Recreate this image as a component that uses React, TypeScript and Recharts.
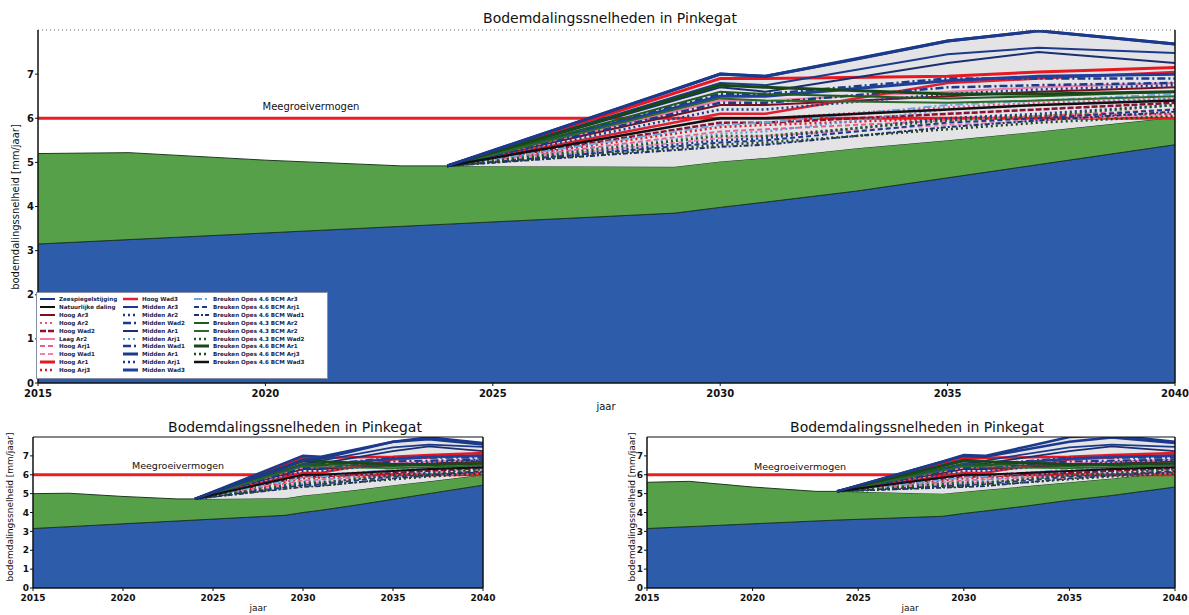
import { Area, ComposedChart, Line, ReferenceLine, XAxis, YAxis } from "recharts";

const FONT = '"DejaVu Sans", Verdana, sans-serif';

const YEARS = [2015, 2017, 2020, 2023, 2024, 2029, 2030, 2031, 2033, 2035, 2037, 2040];
const START_YEAR = 2024;
const SCENARIO_YEARS = [2030, 2031, 2035, 2037, 2040];
const X_TICKS = [2015, 2020, 2025, 2030, 2035, 2040];
const Y_TICKS = [0, 1, 2, 3, 4, 5, 6, 7];
const MEEGROEIVERMOGEN = 6;
const TITLE = "Bodemdalingssnelheden in Pinkegat";
const Y_LABEL = "bodemdalingssnelheid [mm/jaar]";

// bovenste paneel
const TOP_SEA = [3.15, 3.25, 3.4, 3.55, 3.6, 3.85, 3.98, 4.1, 4.35, 4.65, 4.95, 5.4];
const TOP_BODEM = [5.2, 5.22, 5.05, 4.92, 4.92, 4.9, 5.02, 5.1, 5.32, 5.5, 5.7, 6.02];
const TOP_ENVELOPE = [null, null, null, null, 4.92, 6.65, 7.0, 6.95, 7.34, 7.75, 7.98, 7.68];

// linksonder
const LEFT_SEA = [3.15, 3.25, 3.4, 3.55, 3.6, 3.85, 4.0, 4.12, 4.4, 4.7, 5.0, 5.45];
const LEFT_BODEM = [5.0, 5.02, 4.85, 4.72, 4.72, 4.75, 4.9, 5.0, 5.2, 5.45, 5.65, 6.0];
const LEFT_ENVELOPE = [null, null, null, null, 4.72, 6.4, 6.8, 6.85, 7.3, 7.75, 7.88, 7.6];

// rechtsonder
const RIGHT_SEA = [3.15, 3.25, 3.4, 3.55, 3.6, 3.8, 3.95, 4.08, 4.35, 4.65, 4.9, 5.35];
const RIGHT_BODEM = [5.6, 5.65, 5.35, 5.12, 5.12, 5.0, 5.1, 5.2, 5.4, 5.6, 5.8, 6.15];
const RIGHT_ENVELOPE = [null, null, null, null, 5.12, 6.7, 7.05, 7.0, 7.5, 8.0, 8.1, 7.75];

const BASE_NAMES = ["Zeespiegelstijging", "Natuurlijke daling"];

const SCENARIO_NAMES = [
  "Hoog Ar3", "Hoog Ar2", "Hoog Wad2", "Laag Ar2", "Hoog Arj1", "Hoog Wad1", "Hoog Ar1", "Hoog Arj3",
  "Hoog Wad3", "Midden Ar3", "Midden Ar2", "Midden Wad2", "Midden Ar1", "Midden Arj1", "Midden Wad1",
  "Midden Ar1", "Midden Arj1", "Midden Wad3",
  "Breuken Opes 4.6 BCM Ar3", "Breuken Opes 4.6 BCM Arj1", "Breuken Opes 4.6 BCM Wad1",
  "Breuken Opes 4.3 BCM Ar2", "Breuken Opes 4.3 BCM Ar2", "Breuken Opes 4.3 BCM Wad2",
  "Breuken Opes 4.6 BCM Ar1", "Breuken Opes 4.6 BCM Arj3", "Breuken Opes 4.6 BCM Wad3",
];

// waarden in 2030, 2031, 2035, 2037, 2040
const SCENARIO_VALUES = [
  [6.3, 6.3, 6.5, 6.6, 6.7],
  [6.0, 6.0, 6.25, 6.35, 6.45],
  [5.9, 5.9, 6.1, 6.2, 6.35],
  [6.4, 6.4, 6.6, 6.7, 6.8],
  [5.7, 5.75, 5.95, 6.05, 6.2],
  [5.55, 5.6, 5.85, 5.95, 6.1],
  [6.9, 6.9, 6.95, 7.05, 7.15],
  [5.8, 5.85, 6.0, 6.05, 6.1],
  [6.1, 6.1, 6.8, 6.9, 7.05],
  [6.8, 6.75, 7.45, 7.6, 7.48],
  [6.2, 6.2, 6.55, 6.65, 6.75],
  [6.55, 6.55, 6.9, 6.9, 6.9],
  [6.7, 6.6, 7.25, 7.5, 7.25],
  [5.65, 5.7, 6.2, 6.3, 6.45],
  [6.35, 6.35, 6.7, 6.75, 6.8],
  [7.0, 6.95, 7.75, 7.98, 7.68],
  [5.5, 5.55, 6.0, 6.1, 6.3],
  [6.5, 6.5, 6.85, 6.95, 7.0],
  [5.85, 5.9, 6.3, 6.4, 6.55],
  [5.45, 5.5, 5.9, 6.0, 6.2],
  [5.35, 5.4, 5.8, 5.95, 6.15],
  [6.6, 6.55, 6.45, 6.5, 6.6],
  [6.45, 6.4, 6.35, 6.4, 6.5],
  [5.6, 5.6, 5.95, 6.05, 6.3],
  [6.75, 6.7, 6.55, 6.55, 6.6],
  [5.4, 5.45, 5.75, 5.9, 6.05],
  [6.0, 6.0, 6.2, 6.3, 6.4],
];

const NAVY = "#1b3a8c";
const BASE_STYLES = [
  { color: NAVY, width: 2, dash: "" },
  { color: "#111111", width: 2, dash: "" },
];
const SCENARIO_STYLES = [
  { color: "#7a1020", width: 2, dash: "" },
  { color: "#e8508a", width: 2, dash: "2 3" },
  { color: "#8c1030", width: 2.5, dash: "6 2" },
  { color: "#f07aa8", width: 2, dash: "" },
  { color: "#e86090", width: 2, dash: "5 3" },
  { color: "#f080b0", width: 2, dash: "5 3" },
  { color: "#e81820", width: 3, dash: "" },
  { color: "#d81828", width: 2.5, dash: "2 3" },
  { color: "#e02030", width: 2.5, dash: "" },
  { color: NAVY, width: 2, dash: "" },
  { color: NAVY, width: 2.5, dash: "2 3" },
  { color: NAVY, width: 2.5, dash: "8 3 2 3" },
  { color: "#1a2f70", width: 2, dash: "" },
  { color: "#5a9ad8", width: 2, dash: "2 3" },
  { color: NAVY, width: 2.5, dash: "8 3 2 3" },
  { color: NAVY, width: 3, dash: "" },
  { color: NAVY, width: 2.5, dash: "2 3" },
  { color: "#213f9a", width: 3, dash: "" },
  { color: "#6aa8e0", width: 2, dash: "8 3 2 3" },
  { color: NAVY, width: 2, dash: "5 3" },
  { color: "#203070", width: 2, dash: "5 2 2 2" },
  { color: "#1f5a1f", width: 2, dash: "" },
  { color: "#2a6a2a", width: 2, dash: "" },
  { color: "#1f5a1f", width: 2.5, dash: "2 3" },
  { color: "#184818", width: 3, dash: "" },
  { color: "#1f4a1f", width: 2.5, dash: "2 3" },
  { color: "#111111", width: 2.5, dash: "" },
];

function buildRows(sea: number[], bodem: number[], envelope: (number | null)[]) {
  return YEARS.map((year, i) => {
    const row: Record<string, unknown> = { year, sea: sea[i], bodem: [sea[i], bodem[i]] };
    if (envelope[i] != null) {
      row.env = [bodem[i], envelope[i]];
      row.envTop = envelope[i];
    }
    const k = SCENARIO_YEARS.indexOf(year);
    SCENARIO_VALUES.forEach((vals, s) => {
      if (year === START_YEAR) row[`s${s}`] = bodem[i];
      else if (k >= 0) row[`s${s}`] = vals[k];
    });
    return row;
  });
}

function Legend() {
  const entries = [
    ...BASE_NAMES.map((name, i) => ({ name, ...BASE_STYLES[i] })),
    ...SCENARIO_NAMES.map((name, i) => ({ name, ...SCENARIO_STYLES[i] })),
  ];
  const colX = [3, 86, 157];
  return (
    <div
      style={{
        position: "absolute",
        left: 36,
        top: 292,
        width: 292,
        height: 87,
        background: "#fff",
        border: "1px solid #8a8fa8",
        boxSizing: "border-box",
        fontFamily: FONT,
        fontSize: 5.6,
        fontWeight: 700,
        color: "#1a1f4a",
      }}
    >
      {entries.map((e, i) => {
        const col = i < 10 ? 0 : i < 20 ? 1 : 2;
        const row = i < 10 ? i : i < 20 ? i - 10 : i - 20;
        return (
          <div
            key={i}
            style={{
              position: "absolute",
              left: colX[col],
              top: 2 + row * 7.9,
              height: 8,
              display: "flex",
              alignItems: "center",
              whiteSpace: "nowrap",
            }}
          >
            <svg width={15} height={6} style={{ marginRight: 4 }}>
              <line x1={0} y1={3} x2={15} y2={3} stroke={e.color} strokeWidth={e.width} strokeDasharray={e.dash || undefined} />
            </svg>
            {e.name}
          </div>
        );
      })}
    </div>
  );
}

type PanelProps = {
  left: number;
  top: number;
  width: number;
  height: number;
  yAxisWidth: number;
  marginTop: number;
  marginRight: number;
  xAxisHeight: number;
  rows: Record<string, unknown>[];
  tickFont: number;
  titleFont: number;
  titleX: number;
  titleY: number;
  noteX: number;
  noteY: number;
  noteFont: number;
  xLabelX: number;
  xLabelY: number;
  yLabelX: number;
  yLabelY: number;
  lineScale: number;
  dottedTop?: boolean;
  legend?: boolean;
};

function Panel(p: PanelProps) {
  const text = { position: "absolute" as const, fontFamily: FONT, color: "#111", whiteSpace: "nowrap" as const };
  return (
    <div style={{ position: "absolute", left: p.left, top: p.top, width: p.width, height: p.height }}>
      <ComposedChart
        width={p.width}
        height={p.height}
        data={p.rows}
        margin={{ top: p.marginTop, right: p.marginRight, left: 0, bottom: 0 }}
      >
        <XAxis
          dataKey="year"
          type="number"
          domain={[2015, 2040]}
          ticks={X_TICKS}
          allowDataOverflow
          height={p.xAxisHeight}
          tickSize={3}
          tickMargin={4}
          axisLine={{ stroke: "#111", strokeWidth: 1.5 }}
          tickLine={{ stroke: "#111" }}
          tick={{ fill: "#111", fontSize: p.tickFont, fontFamily: FONT, fontWeight: 600 }}
        />
        <YAxis
          type="number"
          domain={[0, 8]}
          ticks={Y_TICKS}
          allowDataOverflow
          width={p.yAxisWidth}
          tickSize={3}
          tickMargin={1}
          axisLine={{ stroke: "#111", strokeWidth: 1.5 }}
          tickLine={{ stroke: "#111" }}
          tick={{ fill: "#111", fontSize: p.tickFont, fontFamily: FONT, fontWeight: 600 }}
        />
        <Area dataKey="sea" type="linear" fill="#2d5cab" fillOpacity={1} stroke="#18306e" strokeWidth={1} isAnimationActive={false} />
        <Area dataKey="bodem" type="linear" fill="#56a04a" fillOpacity={1} stroke="#1e3a1e" strokeWidth={1} isAnimationActive={false} />
        <Area dataKey="env" type="linear" fill="#e4e4e7" fillOpacity={1} stroke="none" isAnimationActive={false} />
        <ReferenceLine y={MEEGROEIVERMOGEN} stroke="#ec1c24" strokeWidth={3} />
        {SCENARIO_VALUES.map((_, s) => {
          const st = SCENARIO_STYLES[s];
          return (
            <Line
              key={s}
              dataKey={`s${s}`}
              type="linear"
              stroke={st.color}
              strokeWidth={st.width * p.lineScale}
              strokeDasharray={st.dash || undefined}
              dot={false}
              connectNulls
              isAnimationActive={false}
            />
          );
        })}
        <Line dataKey="envTop" type="linear" stroke={NAVY} strokeWidth={3 * p.lineScale} dot={false} connectNulls isAnimationActive={false} />
        <ReferenceLine
          y={8}
          stroke={p.dottedTop ? "#666" : "#111"}
          strokeWidth={p.dottedTop ? 1 : 1.2}
          strokeDasharray={p.dottedTop ? "1 3" : undefined}
        />
        <ReferenceLine x={2040} stroke="#111" strokeWidth={1.5} />
      </ComposedChart>
      <div style={{ ...text, left: p.titleX, top: p.titleY, fontSize: p.titleFont, transform: "translate(-50%, -50%)" }}>{TITLE}</div>
      <div style={{ ...text, left: p.noteX, top: p.noteY, fontSize: p.noteFont, transform: "translate(-50%, -50%)" }}>Meegroeivermogen</div>
      <div style={{ ...text, left: p.xLabelX, top: p.xLabelY, fontSize: p.tickFont, transform: "translate(-50%, -50%)" }}>jaar</div>
      <div
        style={{
          ...text,
          left: p.yLabelX,
          top: p.yLabelY,
          fontSize: p.tickFont,
          transform: "translate(-50%, -50%) rotate(-90deg)",
        }}
      >
        {Y_LABEL}
      </div>
      {p.legend ? <Legend /> : null}
    </div>
  );
}

export default function App() {
  return (
    <div style={{ position: "absolute", left: 0, top: 0, width: 1189, height: 615, background: "#fff", overflow: "hidden" }}>
      <Panel
        left={0}
        top={0}
        width={1189}
        height={410}
        yAxisWidth={38}
        marginTop={30}
        marginRight={14}
        xAxisHeight={27}
        rows={buildRows(TOP_SEA, TOP_BODEM, TOP_ENVELOPE)}
        tickFont={10}
        titleFont={14}
        titleX={610}
        titleY={18}
        noteX={311}
        noteY={106}
        noteFont={10}
        xLabelX={606}
        xLabelY={406}
        yLabelX={15}
        yLabelY={207}
        lineScale={1}
        dottedTop
        legend
      />
      <Panel
        left={0}
        top={410}
        width={500}
        height={205}
        yAxisWidth={33}
        marginTop={27}
        marginRight={17}
        xAxisHeight={27}
        rows={buildRows(LEFT_SEA, LEFT_BODEM, LEFT_ENVELOPE)}
        tickFont={9}
        titleFont={14}
        titleX={295}
        titleY={17}
        noteX={178}
        noteY={55}
        noteFont={9.5}
        xLabelX={258}
        xLabelY={198}
        yLabelX={10}
        yLabelY={97}
        lineScale={0.85}
      />
      <Panel
        left={595}
        top={410}
        width={594}
        height={205}
        yAxisWidth={52}
        marginTop={27}
        marginRight={14}
        xAxisHeight={27}
        rows={buildRows(RIGHT_SEA, RIGHT_BODEM, RIGHT_ENVELOPE)}
        tickFont={9}
        titleFont={14}
        titleX={322}
        titleY={17}
        noteX={205}
        noteY={56}
        noteFont={9.5}
        xLabelX={315}
        xLabelY={198}
        yLabelX={37}
        yLabelY={97}
        lineScale={0.85}
      />
    </div>
  );
}
